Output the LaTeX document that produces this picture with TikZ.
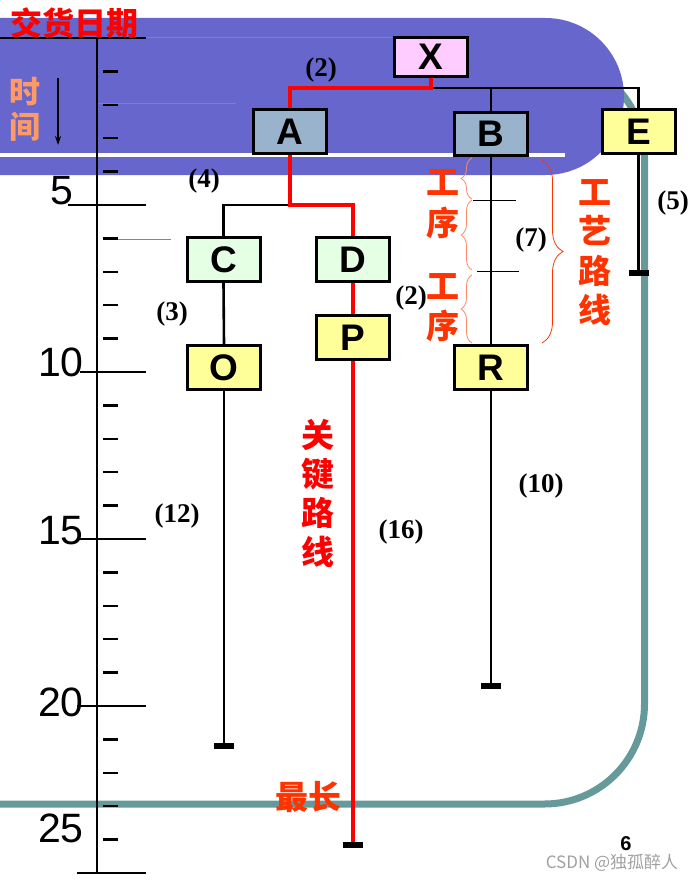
\documentclass[tikz,border=0pt]{standalone}
\usepackage{fontspec}
\setmainfont{Liberation Serif}
\newfontfamily\cjk{Noto Sans CJK SC}
\newfontfamily\arial{Liberation Sans}
\usetikzlibrary{arrows.meta,decorations.pathreplacing}
\definecolor{purp}{HTML}{6666CC}
\definecolor{tealf}{HTML}{669999}
\definecolor{boxblue}{HTML}{99B3CC}
\definecolor{boxgreen}{HTML}{E5FFE5}
\definecolor{boxyellow}{HTML}{FFFF99}
\definecolor{boxpink}{HTML}{FFCCFF}
\definecolor{orred}{HTML}{FF3300}
\definecolor{salmon}{HTML}{FF9966}
\definecolor{skyline}{HTML}{3399FF}
\definecolor{bracesal}{HTML}{FF8866}
\definecolor{wmgray}{HTML}{A0A0A0}
\begin{document}
\begin{tikzpicture}[x=1pt,y=-1pt,
  taskbox/.style={draw=black, line width=3pt, minimum width=73pt, minimum height=44pt, inner sep=0pt, font=\arial\bfseries\fontsize{37}{40}\selectfont},
  blk/.style={draw=black, line width=2.6pt},
  redp/.style={draw=red, line width=4pt},
  ruler/.style={draw=black, line width=2.4pt},
  dur/.style={font=\bfseries\fontsize{27}{29}\selectfont, inner sep=0pt},
  cjkbig/.style={font=\cjk\bfseries\fontsize{33}{39.5}\selectfont, align=center, inner sep=0pt},
  rulnum/.style={font=\arial\fontsize{41}{41}\selectfont, inner sep=0pt},
  smallbrace/.style={draw=bracesal, line width=0.8pt, decorate, decoration={brace, amplitude=11pt}},
  bigbrace/.style={draw=orred, line width=0.8pt, decorate, decoration={brace, amplitude=21pt}},
]
\useasboundingbox (0,0) rectangle (696,880);
% background frame
\draw[tealf, line width=7pt, rounded corners=100pt] (-100,57) -- (644.5,57) -- (644.5,804) -- (-100,804);
\fill[purp, rounded corners=78.5pt] (-100,18) rectangle (624,175);
\draw[white, line width=4pt] (-5,155) -- (565,155);
\draw[skyline, line width=1pt] (146,37.5) -- (393,37.5);
\draw[skyline, line width=1pt] (98,104) -- (236,104);
\draw[skyline, line width=1pt] (106,239) -- (171,239);
% ruler
\draw[ruler] (0,38) -- (146,38);
\draw[ruler] (97,38) -- (97,873);
\foreach \k in {1,...,24} \draw[ruler] (103,{38+33.4*\k}) -- (118,{38+33.4*\k});
\draw[ruler] (68,205) -- (146,205);
\draw[ruler] (80,372) -- (146,372);
\draw[ruler] (80,539) -- (146,539);
\draw[ruler] (77,706) -- (146,706);
\draw[ruler] (77,873) -- (146,873);
\node[rulnum] (n5) at (61.5,191) {5};
\node[rulnum] (n10) at (61,362) {10};
\node[rulnum] (n15) at (61,531) {15};
\node[rulnum] (n20) at (61,702) {20};
\node[rulnum] (n25) at (61,828) {25};
% titles
\node[font=\cjk\bfseries\fontsize{32}{32}\selectfont, text=red, inner sep=0pt] (jh) at (74,23) {交货日期};
\node[font=\cjk\bfseries\fontsize{31}{35}\selectfont, text=salmon, align=center, inner sep=0pt] (sj) at (25,109.5) {时\\间};
\coordinate (ta) at (58,78);
\coordinate (tb) at (58,145);
\draw[-{Stealth[length=9pt,width=6pt]}, line width=1.2pt] (ta) -- (tb);
% boxes
\node[taskbox, fill=boxpink, minimum height=39pt] (X) at (431,57) {X};
\node[taskbox, fill=boxblue] (A) at (289.5,131.5) {A};
\node[taskbox, fill=boxblue, minimum height=43pt] (B) at (491,134) {B};
\node[taskbox, fill=boxyellow] (E) at (638.5,131.5) {E};
\node[taskbox, fill=boxgreen] (C) at (223.5,259.5) {C};
\node[taskbox, fill=boxgreen] (D) at (353,259.5) {D};
\node[taskbox, fill=boxyellow] (O) at (224,367.5) {O};
\node[taskbox, fill=boxyellow] (P) at (353,337.5) {P};
\node[taskbox, fill=boxyellow] (R) at (491,367.5) {R};
% connectors
\coordinate (xj) at (431,88);
\draw[blk] (X.south) -- (xj) -| (E.north);
\draw[blk] (xj -| B.north) -- (B.north);
\draw[redp] (X.south) -- (xj) -| (A.north);
\coordinate (aj) at (289.5,205);
\draw[blk] (aj) -| (C.north);
\draw[redp] (A.south) -- (aj) -| (D.north);
\draw[blk] (C.south) -- (O.north);
\draw[redp] (D.south) -- (P.north);
\draw[blk] (B.south) -- (R.north);
\coordinate (oend) at (224,746);
\coordinate (rend) at (491,686);
\coordinate (pend) at (353,845);
\coordinate (eend) at (638.5,273);
\draw[blk] (O.south) -- (oend);
\draw[blk] (R.south) -- (rend);
\draw[blk] (E.south) -- (eend);
\draw[redp] (P.south) -- (pend);
\fill (oend) +(-10,-3) rectangle +(10,3);
\fill (rend) +(-10,-3) rectangle +(10,3);
\fill (pend) +(-10,-3) rectangle +(10,3);
\fill (eend) +(-10,-3) rectangle +(10,3);
% process marks and braces
\draw[black, line width=0.8pt] (473,200) -- (516,200);
\draw[black, line width=0.8pt] (477,271) -- (519,271);
\draw[smallbrace] (472,199) -- (472,158);
\draw[smallbrace] (472,270) -- (472,200);
\draw[smallbrace] (472,343) -- (472,275);
\draw[bigbrace] (542,160) -- (542,343);
% labels
\node[cjkbig, text=orred, font=\cjk\bfseries\fontsize{33}{41}\selectfont] (gx1) at (443,204.5) {工\\序};
\node[cjkbig, text=orred, font=\cjk\bfseries\fontsize{33}{40}\selectfont] (gx2) at (443,307.5) {工\\序};
\node[cjkbig, text=orred] (gylx) at (595,252.5) {工\\艺\\路\\线};
\node[cjkbig, text=red, font=\cjk\bfseries\fontsize{33}{39}\selectfont] (gjlx) at (318,493.5) {关\\键\\路\\线};
\node[cjkbig, text=orred] (zc) at (308,797) {最长};
\node[dur] (d1) at (321,70) {(2)};
\node[dur] (d2) at (204,181) {(4)};
\node[dur] (d3) at (172,314) {(3)};
\node[dur] (d4) at (177,516) {(12)};
\node[dur] (d5) at (401,532) {(16)};
\node[dur] (d6) at (411,298) {(2)};
\node[dur] (d7) at (531,240) {(7)};
\node[dur] (d8) at (673,203) {(5)};
\node[dur] (d9) at (541,486) {(10)};
\node[font=\arial\bfseries\fontsize{20}{20}\selectfont, inner sep=0pt] (pg) at (626,843.5) {6};
\node[font=\cjk\fontsize{17}{17}\selectfont, text=wmgray, inner sep=0pt] (wm) at (612,863) {CSDN @独孤醉人};
\end{tikzpicture}
\end{document}
